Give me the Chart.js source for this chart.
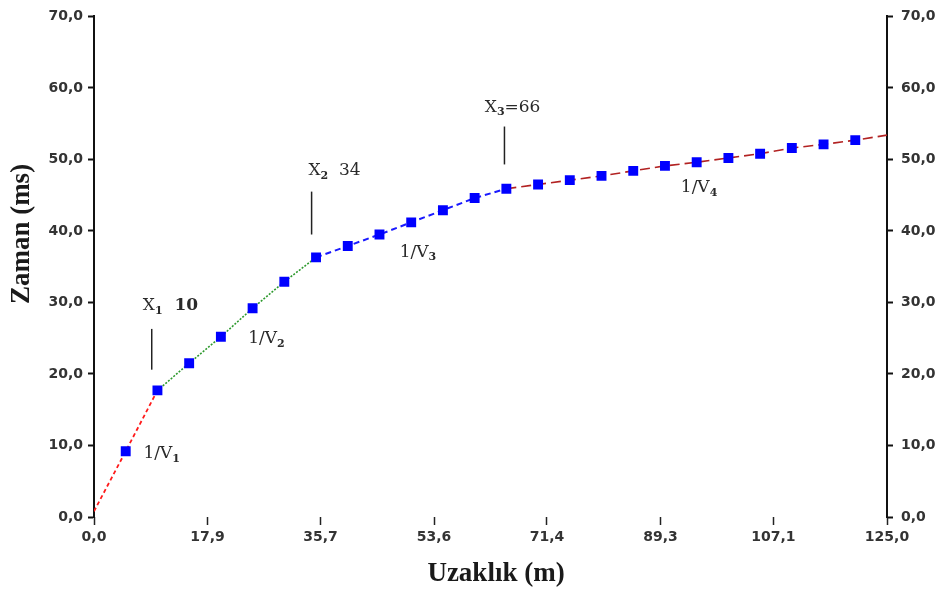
<!doctype html>
<html lang="tr">
<head>
<meta charset="UTF-8">
<title>Zaman - Uzaklık</title>
<script src="https://cdn.jsdelivr.net/npm/chart.js@4.4.1/dist/chart.umd.min.js"></script>
<style>
    html, body { margin: 0; padding: 0; background: #fff; }
</style>
</head>
<body>
<canvas id="grafik" width="938" height="590"></canvas>
<script>
    // olculen noktalar (m, ms)
    let uzaklik = [5, 10, 15, 20, 25, 30, 35, 40, 45, 50, 55, 60, 65, 70, 75, 80, 85, 90, 95, 100, 105, 110, 115, 120]
    let zaman = [9.2, 17.7, 21.5, 25.2, 29.2, 32.9, 36.3, 37.9, 39.5, 41.2, 42.9, 44.6, 45.9, 46.5, 47.1, 47.7, 48.4, 49.1, 49.6, 50.2, 50.8, 51.6, 52.1, 52.7]

    // dogrularin kirilma noktalari (uzaklik dizisindeki sira): x = 10, 35, 65
    let kirilma = [1, 6, 12]
    let baslangic = {x: 0, y: 0.8}
    let bitis = {x: 125, y: 53.4}

    let xTicks = [0, 17.9, 35.7, 53.6, 71.4, 89.3, 107.1, 125.0]
    let yTicks = [0, 10, 20, 30, 40, 50, 60, 70]

    let noktalar = uzaklik.map((x, i) => ({x: x, y: zaman[i]}))

    let seg1 = [baslangic].concat(noktalar.slice(0, kirilma[0] + 1))
    let seg2 = noktalar.slice(kirilma[0], kirilma[1] + 1)
    let seg3 = noktalar.slice(kirilma[1], kirilma[2] + 1)
    let seg4 = noktalar.slice(kirilma[2]).concat([bitis])

    // yazilar
    let etiketler = [
        {parca: [['X'], ['1', 'alt'], ['  10', 'kalin']], x: 7.7, y: 29.5},
        {parca: [['1/V'], ['1', 'alt']], x: 7.8, y: 8.8},
        {parca: [['1/V'], ['2', 'alt']], x: 24.3, y: 24.9},
        {parca: [['X'], ['2', 'alt'], ['  34']], x: 33.8, y: 48.4},
        {parca: [['1/V'], ['3', 'alt']], x: 48.2, y: 37.0},
        {parca: [['X'], ['3', 'alt'], ['=66']], x: 61.6, y: 57.3},
        {parca: [['1/V'], ['4', 'alt']], x: 92.5, y: 46.0}
    ]
    let isaretler = [
        {x: 9.1, y1: 20.6, y2: 26.3},
        {x: 34.3, y1: 39.5, y2: 45.5},
        {x: 64.7, y1: 49.3, y2: 54.6}
    ]

    let yazilar = {
        id: 'yazilar',
        afterDatasetsDraw(chart) {
            let ctx = chart.ctx
            let sx = chart.scales.x
            let sy = chart.scales.y
            ctx.save()
            ctx.strokeStyle = '#222'
            ctx.lineWidth = 1.5
            isaretler.forEach(m => {
                let px = sx.getPixelForValue(m.x)
                ctx.beginPath()
                ctx.moveTo(px, sy.getPixelForValue(m.y1))
                ctx.lineTo(px, sy.getPixelForValue(m.y2))
                ctx.stroke()
            })
            ctx.fillStyle = '#2a2a2a'
            ctx.textBaseline = 'middle'
            ctx.textAlign = 'left'
            etiketler.forEach(e => {
                let px = sx.getPixelForValue(e.x)
                let py = sy.getPixelForValue(e.y)
                e.parca.forEach(p => {
                    let dy = 0
                    if (p[1] == 'alt') {
                        ctx.font = 'bold 11px "DejaVu Serif"'
                        dy = 5
                    } else if (p[1] == 'kalin') {
                        ctx.font = 'bold 17px "DejaVu Serif"'
                    } else {
                        ctx.font = '17px "DejaVu Serif"'
                    }
                    ctx.fillText(p[0], px, py + dy)
                    px += ctx.measureText(p[0]).width
                })
            })
            // eksen basliklari
            ctx.fillStyle = '#1a1a1a'
            ctx.font = 'bold 27px "Liberation Serif"'
            ctx.textAlign = 'center'
            ctx.fillText('Uzaklık (m)', 496, 574)
            ctx.translate(22, 234)
            ctx.rotate(-Math.PI / 2)
            ctx.fillText('Zaman (ms)', 0, 0)
            ctx.restore()
        }
    }

    let tickFont = {family: 'DejaVu Sans', size: 14, weight: 'bold'}
    let virgul = v => Number(v).toFixed(1).replace('.', ',')

    let yEksen = (konum, genislik, bosluk) => ({
        type: 'linear',
        position: konum,
        min: 0,
        max: 70,
        afterBuildTicks: s => { s.ticks = yTicks.map(v => ({value: v})) },
        afterFit: s => { s.width = genislik },
        border: {display: true, color: '#111', width: 2},
        grid: {drawOnChartArea: false, drawTicks: true, tickLength: 6, tickWidth: 2, color: '#111'},
        ticks: {callback: virgul, font: tickFont, color: '#333', padding: bosluk}
    })

    let config = {
        type: 'scatter',
        data: {
            datasets: [
                {
                    label: 'Ölçüm',
                    data: noktalar,
                    pointStyle: 'rect',
                    pointRadius: 7,
                    backgroundColor: '#0000ff',
                    borderWidth: 0,
                    showLine: false
                },
                {data: seg1, showLine: true, borderColor: '#ff1a1a', borderDash: [4, 3], borderWidth: 1.8, pointRadius: 0},
                {data: seg2, showLine: true, borderColor: '#2e9a2e', borderDash: [2, 1.5], borderWidth: 1.6, pointRadius: 0},
                {data: seg3, showLine: true, borderColor: '#1a1aff', borderDash: [6, 4], borderWidth: 2, pointRadius: 0},
                {data: seg4, showLine: true, borderColor: '#b22222', borderDash: [10, 5], borderWidth: 1.6, pointRadius: 0}
            ]
        },
        options: {
            responsive: false,
            animation: false,
            layout: {padding: {top: 15, left: 0, right: 0, bottom: 0}},
            plugins: {legend: {display: false}, tooltip: {enabled: false}},
            scales: {
                x: {
                    type: 'linear',
                    position: 'bottom',
                    min: 0,
                    max: 125,
                    afterBuildTicks: s => { s.ticks = xTicks.map(v => ({value: v})) },
                    afterFit: s => { s.height = 73 },
                    border: {display: false},
                    grid: {drawOnChartArea: false, drawTicks: true, tickLength: 8, tickWidth: 1.5, color: '#222'},
                    ticks: {callback: virgul, font: tickFont, color: '#333', padding: 4, maxRotation: 0, autoSkip: false}
                },
                y: yEksen('left', 94, 5),
                y2: yEksen('right', 51, 8)
            }
        },
        plugins: [yazilar]
    }

    new Chart(document.getElementById('grafik'), config)
</script>
</body>
</html>
